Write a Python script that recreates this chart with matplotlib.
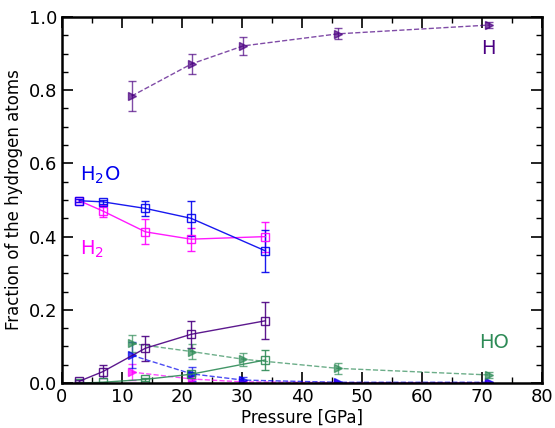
import matplotlib
matplotlib.use("Agg")
import matplotlib.pyplot as plt
from matplotlib.ticker import MultipleLocator

# Low-pressure set (solid lines, open squares)
p_low = [2.9, 6.8, 13.9, 21.5, 33.9]
h2o_low = [0.498, 0.495, 0.477, 0.450, 0.361]
h2o_low_err = [0.004, 0.005, 0.020, 0.047, 0.058]
h2_low = [0.498, 0.470, 0.413, 0.393, 0.400]
h2_low_err = [0.004, 0.016, 0.034, 0.031, 0.041]
h3_low = [0.005, 0.031, 0.095, 0.133, 0.170]
h3_low_err = [0.002, 0.018, 0.034, 0.037, 0.050]
ho_low = [0.000, 0.002, 0.010, 0.024, 0.063]
ho_low_err = [0.001, 0.002, 0.005, 0.006, 0.027]

# High-pressure set (dashed lines, filled markers)
p_high = [11.6, 21.6, 30.2, 46.0, 71.2]
h_high = [0.784, 0.872, 0.921, 0.954, 0.978]
h_high_err = [0.042, 0.028, 0.025, 0.015, 0.008]
ho_high = [0.108, 0.086, 0.065, 0.040, 0.022]
ho_high_err = [0.022, 0.020, 0.018, 0.016, 0.008]
h2o_high = [0.076, 0.025, 0.008, 0.002, 0.002]
h2o_high_err = [0.036, 0.020, 0.008, 0.002, 0.002]
h2_high = [0.030, 0.011, 0.003, 0.001, 0.001]
h2_high_err = [0.023, 0.008, 0.003, 0.001, 0.001]

c_purple = "#4B0082"
c_blue = "#0000EE"
c_mag = "#FF00FF"
c_green = "#2E8B57"

fig = plt.figure(figsize=(5.55, 4.28), dpi=100)
ax = fig.add_axes([0.1117, 0.1051, 0.8649, 0.8552])

def solid(y, e, c):
    ax.errorbar(p_low, y, yerr=e, color=c, ls='-', lw=1.0, marker='s', ms=6,
                mfc='none', mec=c, mew=1.0, capsize=3, elinewidth=1.0,
                ecolor=c, alpha=0.9)

def dashed(y, e, c):
    ax.errorbar(p_high, y, yerr=e, color=c, ls='--', lw=1.0, marker='>', ms=6,
                mfc=c, mec=c, capsize=3, elinewidth=1.0, ecolor=c, alpha=0.7)

dashed(h2_high, h2_high_err, c_mag)
dashed(h2o_high, h2o_high_err, c_blue)
dashed(ho_high, ho_high_err, c_green)
dashed(h_high, h_high_err, c_purple)
solid(ho_low, ho_low_err, c_green)
solid(h3_low, h3_low_err, c_purple)
solid(h2_low, h2_low_err, c_mag)
solid(h2o_low, h2o_low_err, c_blue)

ax.text(71, 0.915, "H", color=c_purple, fontsize=14, ha='center', va='center')
ax.text(3, 0.568, r"H$_2$O", color=c_blue, fontsize=14, ha='left', va='center')
ax.text(3, 0.365, r"H$_2$", color=c_mag, fontsize=14, ha='left', va='center')
ax.text(72, 0.112, "HO", color=c_green, fontsize=14, ha='center', va='center')

ax.set_xlim(0, 80)
ax.set_ylim(0, 1.0)
ax.xaxis.set_major_locator(MultipleLocator(10))
ax.xaxis.set_minor_locator(MultipleLocator(5))
ax.yaxis.set_major_locator(MultipleLocator(0.2))
ax.yaxis.set_minor_locator(MultipleLocator(0.05))
ax.tick_params(which='both', direction='in', top=True, right=True, labelsize=13)
ax.tick_params(which='major', length=8, width=1.2)
ax.tick_params(which='minor', length=4, width=1.0)
for s in ax.spines.values():
    s.set_linewidth(1.8)
ax.set_xlabel("Pressure [GPa]", fontsize=12, labelpad=2)
ax.set_ylabel("Fraction of the hydrogen atoms", fontsize=12, labelpad=4)

fig.savefig("out.png", dpi=100)
